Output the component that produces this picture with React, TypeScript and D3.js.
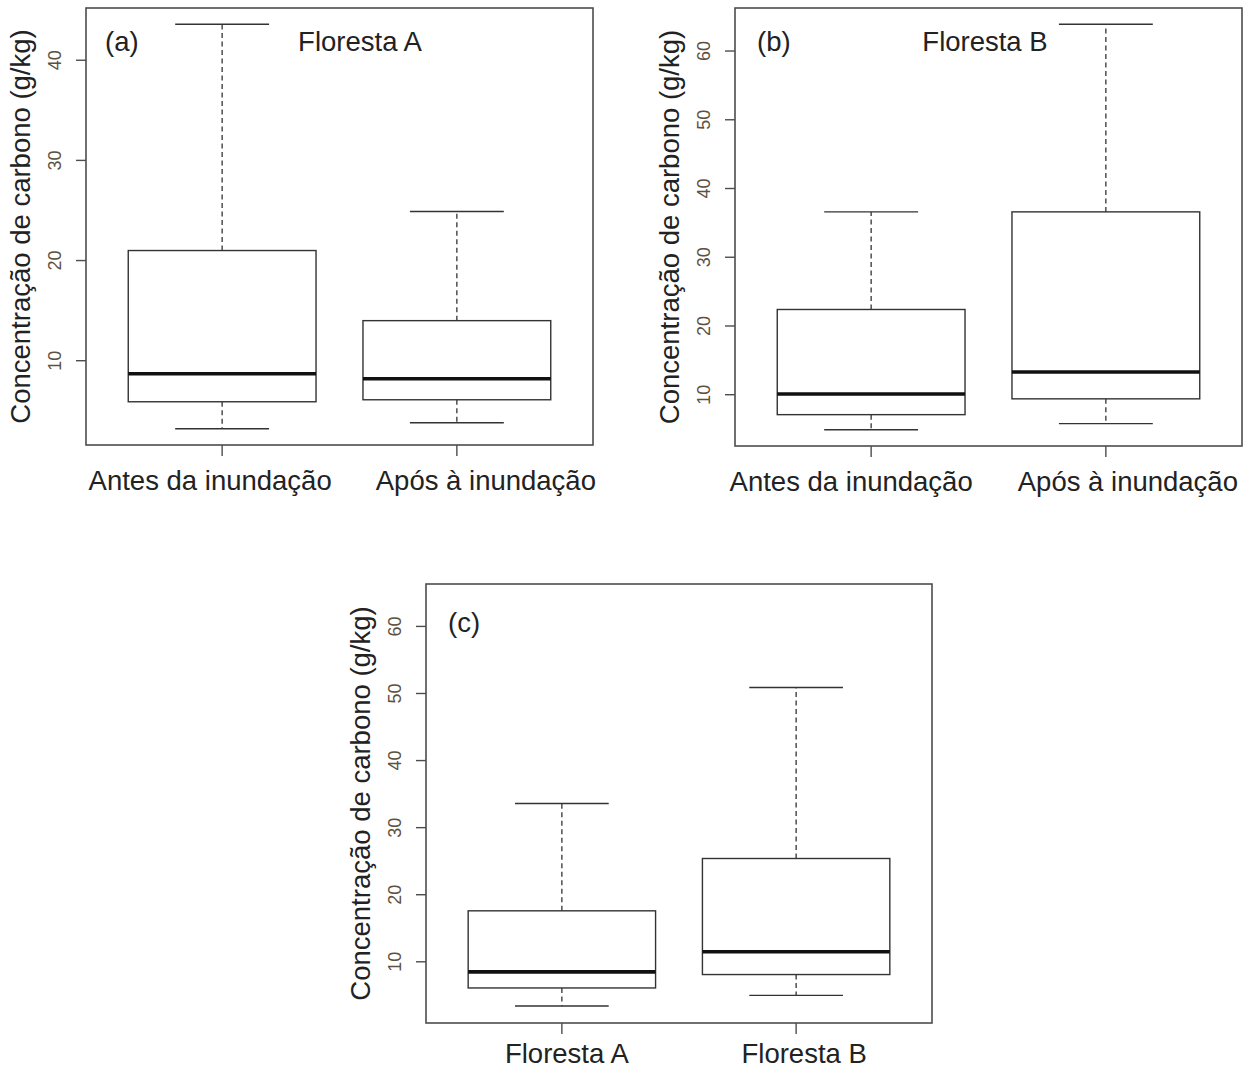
import React from "react";
import * as d3 from "d3";

// five-number summaries: [lower whisker, Q1, median, Q3, upper whisker]
const floodCategories = ["Antes da inundação", "Após à inundação"];
const forestCategories = ["Floresta A", "Floresta B"];

const forestABefore = [3.2, 5.9, 8.7, 21.0, 43.6];
const forestAAfter = [3.8, 6.1, 8.2, 14.0, 24.9];

const forestBBefore = [4.9, 7.1, 10.1, 22.4, 36.6];
const forestBAfter = [5.8, 9.4, 13.3, 36.6, 63.9];

const forestAAll = [3.4, 6.1, 8.5, 17.6, 33.6];
const forestBAll = [5.0, 8.1, 11.5, 25.4, 50.9];

const ticksA = [10, 20, 30, 40];
const ticksB = [10, 20, 30, 40, 50, 60];
const ticksC = [10, 20, 30, 40, 50, 60];

const yLimA = [3.2, 43.6];
const yLimB = [4.9, 63.9];
const yLimC = [3.3, 63.9];

const yTitle = "Concentração de carbono (g/kg)";
const FONT = "'Liberation Sans', Arial, Helvetica, sans-serif";
const TICK_COLOR = "#5e5140";
const FRAME = "#4d4d4d";

type PanelProps = {
  left: number;
  right: number;
  top: number;
  bottom: number;
  boxes: number[][];
  categories: string[];
  labelShift: number[];
  labelDy: number;
  ticks: number[];
  yLim: number[];
  tag: string;
  tagPos: [number, number];
  title?: string;
  titlePos?: [number, number];
};

const Panel = ({
  left, right, top, bottom, boxes, categories, labelShift, labelDy,
  ticks, yLim, tag, tagPos, title, titlePos,
}: PanelProps) => {
  // R-style 4% axis extension
  const pad = (yLim[1] - yLim[0]) * 0.04;
  const y = d3.scaleLinear().domain([yLim[0] - pad, yLim[1] + pad]).range([bottom, top]);
  const x = d3.scaleLinear().domain([0.42, 2.58]).range([left, right]);
  const halfBox = 0.4;
  const halfCap = 0.2;

  return (
    <g fontFamily={FONT}>
      <rect x={left} y={top} width={right - left} height={bottom - top} fill="none" stroke={FRAME} strokeWidth={1.6} />

      {boxes.map((b, i) => {
        const cx = x(i + 1);
        const x0 = x(i + 1 - halfBox);
        const x1 = x(i + 1 + halfBox);
        const [lo, q1, med, q3, hi] = b;
        return (
          <g key={i}>
            <line x1={cx} x2={cx} y1={y(q3)} y2={y(hi)} stroke="#333" strokeWidth={1.3} strokeDasharray="5,3.5" />
            <line x1={cx} x2={cx} y1={y(q1)} y2={y(lo)} stroke="#333" strokeWidth={1.3} strokeDasharray="5,3.5" />
            <line x1={x(i + 1 - halfCap)} x2={x(i + 1 + halfCap)} y1={y(hi)} y2={y(hi)} stroke="#333" strokeWidth={1.4} />
            <line x1={x(i + 1 - halfCap)} x2={x(i + 1 + halfCap)} y1={y(lo)} y2={y(lo)} stroke="#333" strokeWidth={1.4} />
            <rect x={x0} y={y(q3)} width={x1 - x0} height={y(q1) - y(q3)} fill="none" stroke="#333" strokeWidth={1.4} />
            <line x1={x0} x2={x1} y1={y(med)} y2={y(med)} stroke="#111" strokeWidth={3.6} />
          </g>
        );
      })}

      {/* y axis */}
      {ticks.map((t) => (
        <g key={t} transform={`translate(${left},${y(t)})`}>
          <line x1={0} x2={-10} stroke={FRAME} strokeWidth={1.4} />
          <text transform="translate(-25,0) rotate(-90)" textAnchor="middle" fontSize={18} fill={TICK_COLOR}>
            {t}
          </text>
        </g>
      ))}
      <text
        transform={`translate(${left - 56},${(top + bottom) / 2}) rotate(-90)`}
        textAnchor="middle"
        fontSize={27.5}
        fill="#222"
      >
        {yTitle}
      </text>

      {/* x axis */}
      {categories.map((c, i) => (
        <g key={c} transform={`translate(${x(i + 1)},${bottom})`}>
          <line y1={0} y2={11} stroke={FRAME} strokeWidth={1.4} />
          <text x={labelShift[i]} y={labelDy} textAnchor="middle" fontSize={27.5} fill="#222">
            {c}
          </text>
        </g>
      ))}

      <text x={tagPos[0]} y={tagPos[1]} fontSize={27.5} fill="#222">
        {tag}
      </text>
      {title && titlePos && (
        <text x={titlePos[0]} y={titlePos[1]} textAnchor="middle" fontSize={27.5} fill="#222">
          {title}
        </text>
      )}
    </g>
  );
};

const App = () => {
  return (
    <svg
      width={1251}
      height={1070}
      style={{ position: "absolute", left: 0, top: 0, background: "white" }}
    >
      <rect width={1251} height={1070} fill="white" />
      <Panel
        left={86}
        right={593}
        top={8}
        bottom={445}
        boxes={[forestABefore, forestAAfter]}
        categories={floodCategories}
        labelShift={[-12, 29]}
        labelDy={45}
        ticks={ticksA}
        yLim={yLimA}
        tag="(a)"
        tagPos={[105, 51]}
        title="Floresta A"
        titlePos={[360, 51]}
      />
      <Panel
        left={735}
        right={1242}
        top={8}
        bottom={446}
        boxes={[forestBBefore, forestBAfter]}
        categories={floodCategories}
        labelShift={[-20, 22]}
        labelDy={45}
        ticks={ticksB}
        yLim={yLimB}
        tag="(b)"
        tagPos={[757, 51]}
        title="Floresta B"
        titlePos={[985, 51]}
      />
      <Panel
        left={426}
        right={932}
        top={584}
        bottom={1023}
        boxes={[forestAAll, forestBAll]}
        categories={forestCategories}
        labelShift={[5, 8]}
        labelDy={40}
        ticks={ticksC}
        yLim={yLimC}
        tag="(c)"
        tagPos={[448, 632]}
      />
    </svg>
  );
};

export default App;
